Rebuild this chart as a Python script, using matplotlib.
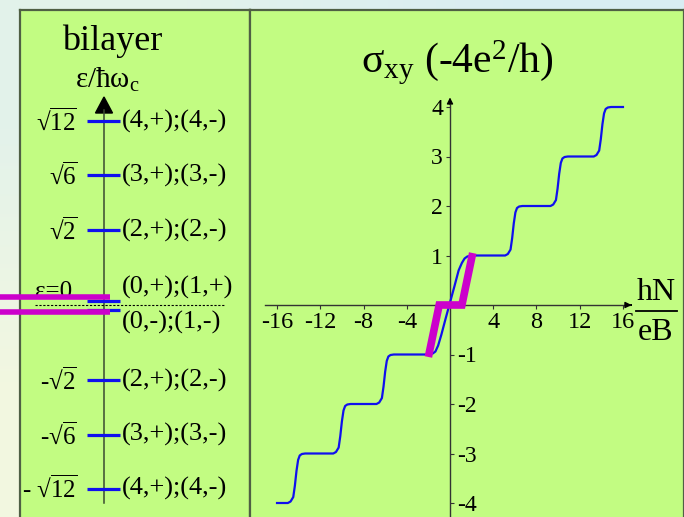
import numpy as np
import matplotlib
matplotlib.use("Agg")
import matplotlib.pyplot as plt
from matplotlib.patches import Polygon
from matplotlib.lines import Line2D

plt.rcParams['font.family'] = ['Liberation Serif', 'DejaVu Serif']
plt.rcParams['mathtext.fontset'] = 'custom'
plt.rcParams['mathtext.rm'] = 'Liberation Serif'
plt.rcParams['mathtext.it'] = 'Liberation Serif:italic'
plt.rcParams['mathtext.bf'] = 'Liberation Serif:bold'

# ---------------- data ----------------
# Landau levels of bilayer graphene, in units of hbar*omega_c
level_values = [np.sqrt(12), np.sqrt(6), np.sqrt(2), -np.sqrt(2), -np.sqrt(6), -np.sqrt(12)]
level_left_labels = [r'√$\overline{\mathrm{12}}$', r'√$\overline{\mathrm{6}}$', r'√$\overline{\mathrm{2}}$',
                     r'-√$\overline{\mathrm{2}}$', r'-√$\overline{\mathrm{6}}$', r'- √$\overline{\mathrm{12}}$']
level_right_labels = ['(4,+);(4,-)', '(3,+);(3,-)', '(2,+);(2,-)',
                      '(2,+);(2,-)', '(3,+);(3,-)', '(4,+);(4,-)']
zero_split = [0.075, -0.10]
zero_labels = ['(0,+);(1,+)', '(0,-);(1,-)']
zero_label_pos = [0.34, -0.32]
highlight_levels = [0.157, -0.138]

# Hall conductivity sigma_xy (units of -4e^2/h) versus hN/eB
curve_n = [-16.0, -15.0, -14.75, -14.5, -14.35, -14.2, -14.05, -13.9, -13.7, -13.4,
           -10.8, -10.55, -10.3, -10.15, -10.0, -9.85, -9.7, -9.5, -9.2,
           -6.8, -6.55, -6.3, -6.15, -6.0, -5.85, -5.7, -5.5, -5.2,
           -2.0, -1.6, -1.35, -1.1, -0.8, -0.4, 0.0, 0.4, 0.8, 1.1, 1.35, 1.6, 2.0,
           5.1, 5.35, 5.6, 5.75, 5.9, 6.05, 6.2, 6.4, 6.7,
           9.3, 9.55, 9.8, 9.95, 10.1, 10.25, 10.4, 10.6, 10.9,
           13.3, 13.55, 13.8, 13.95, 14.1, 14.25, 14.4, 14.6, 14.9, 16.0]
curve_sigma = [-4.0, -4.0, -3.97, -3.88, -3.65, -3.35, -3.13, -3.04, -3.01, -3.0,
               -3.0, -2.97, -2.88, -2.65, -2.35, -2.13, -2.04, -2.01, -2.0,
               -2.0, -1.97, -1.88, -1.65, -1.35, -1.13, -1.04, -1.01, -1.0,
               -1.0, -0.98, -0.94, -0.82, -0.6, -0.27, 0.05, 0.37, 0.7, 0.85, 0.94, 0.98, 1.0,
               1.0, 1.03, 1.12, 1.35, 1.65, 1.87, 1.96, 1.99, 2.0,
               2.0, 2.03, 2.12, 2.35, 2.65, 2.87, 2.96, 2.99, 3.0,
               3.0, 3.03, 3.12, 3.35, 3.65, 3.87, 3.96, 3.99, 4.0, 4.0]
zero_mode_n = [-2.0, -1.0, 1.1, 2.1]
zero_mode_sigma = [-1.05, 0.0, 0.0, 1.05]

x_ticks = [-16, -12, -8, -4, 4, 8, 12, 16]
y_ticks = [-4, -3, -2, -1, 1, 2, 3, 4]

# ---------------- style ----------------
W, H = 684, 517
GREEN = '#c2fc82'
FRAME = '#4f5f44'
BLUE = '#1010ee'
MAGENTA = '#cc00cc'
AXIS = '#333333'

fig = plt.figure(figsize=(W / 100, H / 100), dpi=100)


def fx(px):
    return px / W


def fy(py):
    return 1 - py / H


# soft background gradient
bg = fig.add_axes([0, 0, 1, 1], zorder=-10)
corners = np.array([[[0.89, 0.95, 0.92], [0.85, 0.93, 0.95]],
                    [[0.95, 0.97, 0.88], [0.93, 0.96, 0.90]]])
bg.imshow(corners, interpolation='bilinear', aspect='auto', extent=[0, 1, 0, 1])
bg.set_axis_off()

# green panels
for left, width in [(20, 230), (250, 434)]:
    fr = fig.add_axes([fx(left), 0, width / W, (H - 10) / H], zorder=-5)
    fr.set_facecolor(GREEN)
    fr.set_xticks([])
    fr.set_yticks([])
    for side in ['top', 'left', 'right']:
        fr.spines[side].set_color(FRAME)
        fr.spines[side].set_linewidth(1.6)
    fr.spines['bottom'].set_visible(False)

# ---------------- left: level diagram ----------------
SCALE_E = 53.0      # pixels per hbar*omega_c
Y0 = 305.0          # pixel row of zero energy


def ey(py):
    return (Y0 - py) / SCALE_E


axL = fig.add_axes([0, 0, 1, 1], zorder=1)
axL.set_xlim(0, W)
axL.set_ylim(ey(H), ey(0))
axL.set_axis_off()
axL.patch.set_visible(False)

# energy axis with arrow head
axL.add_line(Line2D([104, 104], [ey(503), ey(110)], color='#3a4a30', lw=1.1))
axL.add_patch(Polygon([[104, ey(97)], [95.5, ey(113)], [112.5, ey(113)]],
                      closed=True, color='black'))

axL.hlines(level_values, 87, 120, color=BLUE, lw=2.3, zorder=3)
axL.hlines(zero_split, 87, 120, color=BLUE, lw=2.3, zorder=3)
axL.hlines([0], 35, 225, color='black', lw=0.8, linestyles=(0, (2, 1.5)), zorder=2)
axL.hlines(highlight_levels, 0, 110, color=MAGENTA, lw=4.0, zorder=4)

for v, lab in zip(level_values, level_left_labels):
    axL.text(77, v, lab, ha='right', va='center', fontsize=18)
for v, lab in zip(level_values, level_right_labels):
    axL.text(122, v, lab, ha='left', va='center', fontsize=19)
for v, lab in zip(zero_label_pos, zero_labels):
    axL.text(122, v, lab, ha='left', va='center', fontsize=19)
axL.text(54, ey(298), 'ε=0', ha='center', va='baseline', fontsize=18, zorder=1)

fig.text(fx(112.5), fy(50), 'bilayer', ha='center', va='baseline', fontsize=26)
fig.text(fx(75), fy(88), r'ε/ħω$_{\mathrm{c}}$', ha='left', va='baseline', fontsize=21)

# ---------------- right: Hall conductivity ----------------
SX = 10.81   # pixels per unit of hN/eB
SY = 49.5    # pixels per unit of sigma
X0 = 450.0

axR = fig.add_axes([fx(250), 0, 434 / W, 1], zorder=2)
axR.patch.set_visible(False)
axR.set_xlim((250 - X0) / SX, (684 - X0) / SX)
axR.set_ylim((Y0 - H) / SY, Y0 / SY)

axR.spines['top'].set_visible(False)
axR.spines['left'].set_position(('data', 0))
axR.spines['right'].set_position(('data', 0))
axR.spines['right'].set_visible(False)
axR.spines['bottom'].set_position(('data', 0))
axR.spines['left'].set_bounds((Y0 - H) / SY, 4.05)
axR.spines['bottom'].set_bounds((265 - X0) / SX, 16.6)
for side in ['left', 'bottom']:
    axR.spines[side].set_color(AXIS)
    axR.spines[side].set_linewidth(1.0)

axR.annotate('', xy=(0, 4.25), xytext=(0, 4.0),
             arrowprops=dict(arrowstyle='-|>', color='black', lw=1.0, mutation_scale=9))
axR.annotate('', xy=(17.05, 0), xytext=(16.5, 0),
             arrowprops=dict(arrowstyle='-|>', color='black', lw=1.0, mutation_scale=9))

axR.set_xticks(x_ticks)
axR.set_xticklabels([str(t) for t in x_ticks])
axR.set_yticks(y_ticks)
axR.set_yticklabels([str(t) for t in y_ticks])
axR.tick_params(axis='x', direction='out', length=3, width=0.8, color=AXIS,
                labelsize=17.5, pad=2)
axR.tick_params(axis='y', direction='out', length=3, width=0.8, color=AXIS,
                labelsize=17, pad=2, left=True, right=True,
                labelleft=True, labelright=True)
for tick, v in zip(axR.yaxis.get_major_ticks(), y_ticks):
    tick.tick1line.set_visible(v > 0)
    tick.label1.set_visible(v > 0)
    tick.tick2line.set_visible(v < 0)
    tick.label2.set_visible(v < 0)

axR.plot(curve_n, curve_sigma, color=BLUE, lw=1.6, zorder=3, solid_joinstyle='round')
axR.plot(zero_mode_n, zero_mode_sigma, color=MAGENTA, lw=5.5, zorder=4,
         solid_joinstyle='miter', solid_capstyle='butt')

fig.text(fx(457), fy(73), r'σ$_{\mathrm{xy}}$ (-4e$^{2}$/h)', ha='center', va='baseline',
         fontsize=30)
fig.text(fx(656), fy(300), 'hN', ha='center', va='baseline', fontsize=23)
fig.text(fx(656), fy(340), 'eB', ha='center', va='baseline', fontsize=23)
fig.add_artist(Line2D([fx(636), fx(677)], [fy(311), fy(311)], color='black', lw=1.3))

fig.savefig('out.png', dpi=100)
